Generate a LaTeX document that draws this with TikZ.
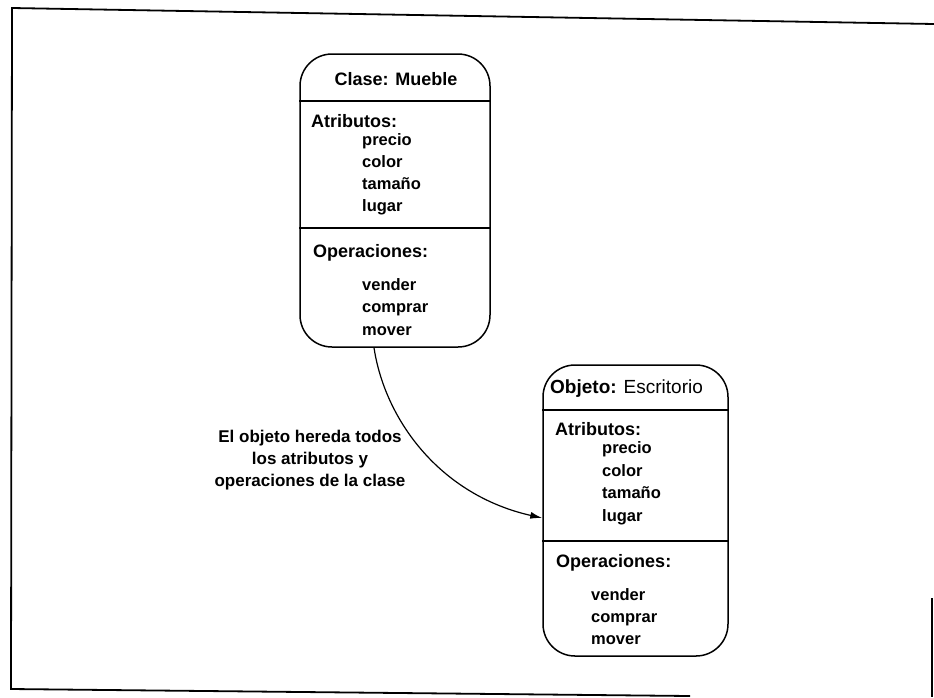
\documentclass[tikz,border=0pt]{standalone}
\usepackage{fontspec}
\setmainfont{Liberation Sans}
\usetikzlibrary{arrows.meta}
\begin{document}
\begin{tikzpicture}[x=1pt,y=-1pt,
  umlbox/.style={draw, line width=1.5pt, rounded corners=32pt, inner sep=0pt},
  divider/.style={line width=1.1pt},
  frameline/.style={line width=1.8pt},
  item/.style={anchor=base west, inner sep=0pt, font=\fontsize{16.5}{20}\selectfont\bfseries},
  head/.style={anchor=base west, inner sep=0pt, font=\fontsize{18}{22}\selectfont\bfseries},
  ttl/.style={anchor=base, inner sep=0pt, font=\fontsize{18}{22}\selectfont},
  note/.style={align=center, inner sep=0pt, font=\fontsize{17}{22}\selectfont\bfseries},
  link/.style={line width=1.2pt, -{Latex[length=12pt,width=7pt]}}]
\useasboundingbox (0,0) rectangle (934,697);

% scanned page frame
\draw[frameline] (934,24) -- (12,8) -- (11,689) -- (690,696);
\draw[frameline] (932,598) -- (932,697);

% class box
\node[umlbox, minimum width=190pt, minimum height=293pt] (mueble) at (395,200.5) {};
\draw[divider] (mueble.west |- 0,101) -- (mueble.east |- 0,101);
\draw[divider] (mueble.west |- 0,228) -- (mueble.east |- 0,228);
\node[ttl] (mtitle) at (396,85) {\bfseries Clase: Mueble};
\node[head] (matr) at (311,127) {Atributos:};
\node[item] (m1) at (362,145) {precio};
\node[item] (m2) at (362,167) {color};
\node[item] (m3) at (362,189) {tamaño};
\node[item] (m4) at (362,211) {lugar};
\node[head] (mops) at (313,257) {Operaciones:};
\node[item] (m5) at (362,290) {vender};
\node[item] (m6) at (362,312) {comprar};
\node[item] (m7) at (362,335) {mover};

% object box
\node[umlbox, minimum width=185pt, minimum height=291pt] (escritorio) at (635.5,510.5) {};
\draw[divider] (escritorio.west |- 0,410) -- (escritorio.east |- 0,410);
\draw[divider] (escritorio.west |- 0,541) -- (escritorio.east |- 0,541);
\node[ttl, anchor=base west, font=\fontsize{19}{22}\selectfont] (etitle) at (550,393) {\textbf{Objeto:} Escritorio};
\node[head] (eatr) at (555,435) {Atributos:};
\node[item] (e1) at (602,453) {precio};
\node[item] (e2) at (602,476) {color};
\node[item] (e3) at (602,498) {tamaño};
\node[item] (e4) at (602,521) {lugar};
\node[head] (eops) at (556,567) {Operaciones:};
\node[item] (e5) at (591,600) {vender};
\node[item] (e6) at (591,622) {comprar};
\node[item] (e7) at (591,644) {mover};

% inheritance connector and its note
\draw[link] ([xshift=-21pt]mueble.south) .. controls (385,420) and (440,495) .. ([yshift=-7.5pt]escritorio.west);
\node[note] (nota) at (310,460) {El objeto hereda todos\\los atributos y\\operaciones de la clase};
\end{tikzpicture}
\end{document}
